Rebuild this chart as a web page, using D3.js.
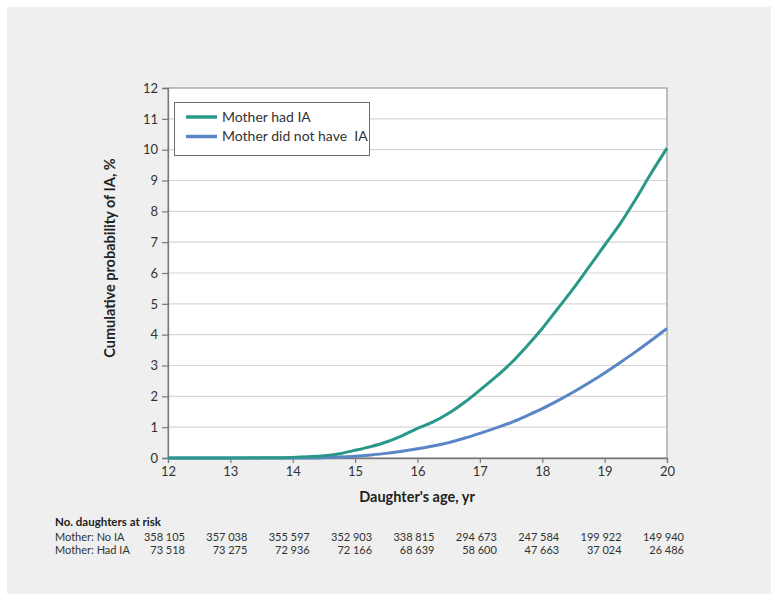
<!DOCTYPE html>
<html><head><meta charset="utf-8">
<script src="https://cdn.jsdelivr.net/npm/d3@7"></script>
<style>
html,body{margin:0;padding:0;background:#fff;}
svg{display:block;font-family:Lato, "Noto Sans", sans-serif;}
text{white-space:pre;}
</style></head>
<body>
<svg id="chart" width="779" height="602"></svg>
<script>
const ages = [12,12.5,13,13.5,14,14.25,14.5,14.75,15,15.25,15.5,15.75,16,16.25,16.5,16.75,17,17.25,17.5,17.75,18,18.25,18.5,18.75,19,19.25,19.5,19.75,20];
const hadIA = [0,0,0,0.005,0.02,0.04,0.07,0.14,0.25,0.37,0.52,0.72,0.96,1.17,1.45,1.8,2.2,2.62,3.08,3.62,4.2,4.85,5.5,6.2,6.9,7.6,8.4,9.25,10.05];
const noIA = [0,0,0,0,0,0.003,0.01,0.03,0.06,0.1,0.15,0.22,0.3,0.39,0.5,0.64,0.8,0.97,1.15,1.37,1.6,1.86,2.14,2.44,2.76,3.1,3.45,3.82,4.2];
const xTicks = [12,13,14,15,16,17,18,19,20];
const yTicks = [0,1,2,3,4,5,6,7,8,9,10,11,12];
const seriesNames = ["Mother had IA","Mother did not have  IA"];
const riskRowLabels = ["Mother: No IA","Mother: Had IA"];
const riskNoIA = ["358 105","357 038","355 597","352 903","338 815","294 673","247 584","199 922","149 940"];
const riskHadIA = ["73 518","73 275","72 936","72 166","68 639","58 600","47 663","37 024","26 486"];

const colors = ["#2a9889","#5a86c5"];
const svg = d3.select("#chart");
svg.append("rect").attr("x",7).attr("y",7).attr("width",764).attr("height",587).attr("fill","#eeefee");

const x = d3.scaleLinear().domain([12,20]).range([168,667]);
const y = d3.scaleLinear().domain([0,12]).range([458,88]);

svg.append("rect").attr("x",x(12)).attr("y",y(12)).attr("width",x(20)-x(12)).attr("height",y(0)-y(12)).attr("fill","#fff");

svg.append("g").selectAll("line").data(yTicks.filter(d=>d>0&&d<12)).join("line")
  .attr("x1",x(12)).attr("x2",x(20)).attr("y1",d=>y(d)).attr("y2",d=>y(d))
  .attr("stroke","#d6d6d6").attr("stroke-width",1.2);

svg.append("rect").attr("x",x(12)).attr("y",y(12)).attr("width",x(20)-x(12)).attr("height",y(0)-y(12))
  .attr("fill","none").attr("stroke","#9a9a9a").attr("stroke-width",1.2);

const yAxis = svg.append("g").attr("transform",`translate(${x(12)},0)`)
  .call(d3.axisLeft(y).tickValues(yTicks).tickFormat(d3.format("d")).tickSize(6).tickPadding(4));
const xAxis = svg.append("g").attr("transform",`translate(0,${y(0)})`)
  .call(d3.axisBottom(x).tickValues(xTicks).tickFormat(d3.format("d")).tickSize(5).tickPadding(4));
[yAxis,xAxis].forEach(a=>{
  a.select(".domain").attr("stroke","#7a7a7a").attr("stroke-width",1.3);
  a.selectAll(".tick line").attr("stroke","#7a7a7a").attr("stroke-width",1.2);
  a.selectAll(".tick text").attr("fill","#333").style("font-size","13px").style("font-family","Lato, sans-serif");
});

const line = d3.line().x(d=>x(d[0])).y(d=>y(d[1])).curve(d3.curveMonotoneX);
const s1 = ages.map((a,i)=>[a,hadIA[i]]);
const s2 = ages.map((a,i)=>[a,noIA[i]]);
svg.append("path").datum(s2).attr("d",line).attr("fill","none").attr("stroke",colors[1]).attr("stroke-width",3);
svg.append("path").datum(s1).attr("d",line).attr("fill","none").attr("stroke",colors[0]).attr("stroke-width",3);

svg.append("rect").attr("x",174.5).attr("y",102.5).attr("width",195).attr("height",53)
  .attr("fill","#fff").attr("stroke","#6e6e6e").attr("stroke-width",1);
seriesNames.forEach((n,i)=>{
  const ly = 117 + i*19.5;
  svg.append("line").attr("x1",186).attr("x2",217).attr("y1",ly).attr("y2",ly).attr("stroke",colors[i]).attr("stroke-width",3.5);
  svg.append("text").attr("x",222).attr("y",ly+4.5).attr("xml:space","preserve").text(n).attr("fill","#333").style("font-size","14px");
});

svg.append("text").attr("transform","translate(115,258) rotate(-90)").attr("text-anchor","middle")
  .text("Cumulative probability of IA, %").attr("fill","#222").style("font-size","14.5px").style("font-weight","bold");
svg.append("text").attr("x",417).attr("y",502).attr("text-anchor","middle")
  .text("Daughter's age, yr").attr("fill","#222").style("font-size","14.5px").style("font-weight","bold");

svg.append("text").attr("x",55).attr("y",526).text("No. daughters at risk").attr("fill","#222").style("font-size","11.5px").style("font-weight","bold");
const rows = [riskNoIA, riskHadIA];
rows.forEach((r,ri)=>{
  const ry = 541 + ri*13;
  svg.append("text").attr("x",55).attr("y",ry).text(riskRowLabels[ri]).attr("fill","#333").style("font-size","11px");
  svg.append("g").selectAll("text").data(r).join("text")
    .attr("x",(d,i)=>x(xTicks[i])+17).attr("y",ry).attr("text-anchor","end").text(d=>d)
    .attr("fill","#333").style("font-size","11px");
});
</script>
</body></html>
